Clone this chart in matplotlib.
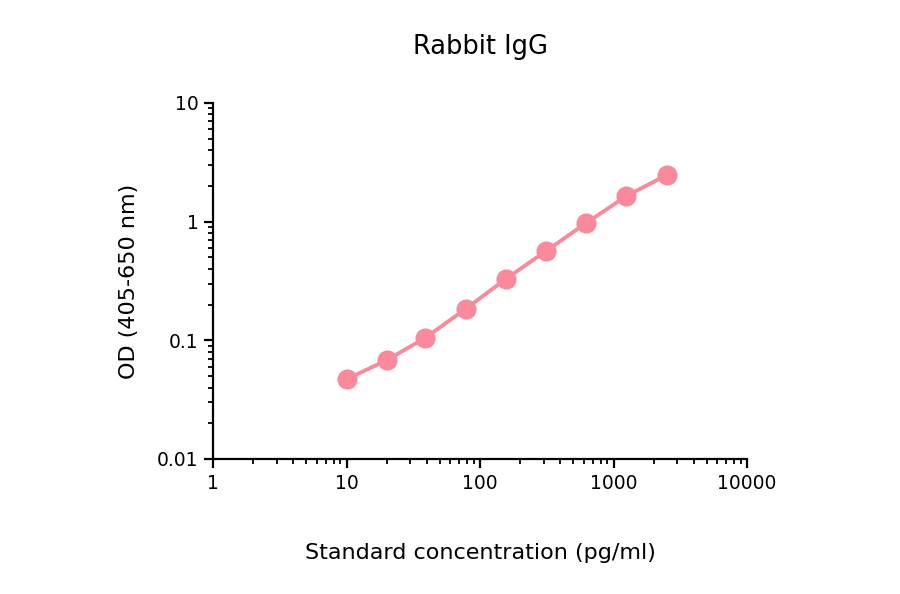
import matplotlib
matplotlib.use("Agg")
import matplotlib.pyplot as plt
from matplotlib.ticker import LogLocator, FixedLocator, FixedFormatter, NullFormatter

concentration = [10, 20, 39, 78, 156, 312.5, 625, 1250, 2500]
od = [0.047, 0.068, 0.105, 0.184, 0.329, 0.566, 0.975, 1.645, 2.47]
x_ticks = [1, 10, 100, 1000, 10000]
x_labels = ["1", "10", "100", "1000", "10000"]
y_ticks = [0.01, 0.1, 1, 10]
y_labels = ["0.01", "0.1", "1", "10"]

color = "#f88a9c"

fig = plt.figure(figsize=(9, 5.94), dpi=100)
ax = fig.add_axes([0.2367, 0.2273, 0.5933, 0.5993])
ax.plot(concentration, od, color=color, lw=2.8, marker="o", ms=13.5, mec=color, mfc=color, zorder=3, clip_on=False)
ax.set_xscale("log")
ax.set_yscale("log")
ax.set_xlim(1, 10000)
ax.set_ylim(0.01, 10)

ax.xaxis.set_major_locator(FixedLocator(x_ticks))
ax.xaxis.set_major_formatter(FixedFormatter(x_labels))
ax.yaxis.set_major_locator(FixedLocator(y_ticks))
ax.yaxis.set_major_formatter(FixedFormatter(y_labels))
ax.xaxis.set_minor_locator(LogLocator(base=10, subs=range(2, 10), numticks=20))
ax.yaxis.set_minor_locator(LogLocator(base=10, subs=range(2, 10), numticks=20))
ax.xaxis.set_minor_formatter(NullFormatter())
ax.yaxis.set_minor_formatter(NullFormatter())

for s in ["top", "right"]:
    ax.spines[s].set_visible(False)
for s in ["left", "bottom"]:
    ax.spines[s].set_linewidth(1.6)
ax.tick_params(which="major", direction="out", length=6.5, width=1.6, labelsize=13.5, pad=4)
ax.tick_params(which="minor", direction="out", length=3.8, width=1.3)

ax.set_title("Rabbit IgG", fontsize=18.5, pad=35)
ax.set_xlabel("Standard concentration (pg/ml)", fontsize=16, labelpad=36)
ax.set_ylabel("OD (405-650 nm)", fontsize=16, labelpad=13)

fig.savefig("out.png", dpi=100)
